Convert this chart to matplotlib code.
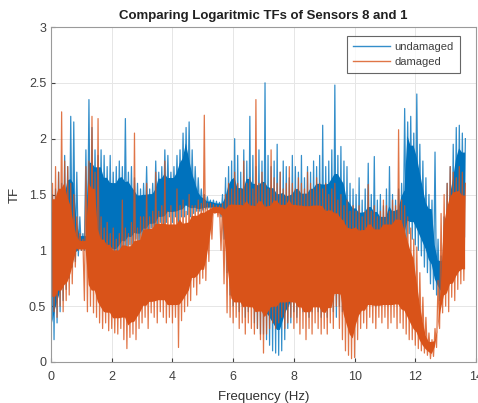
import numpy as np
import matplotlib
matplotlib.use("Agg")
import matplotlib.pyplot as plt

plt.rcParams['font.family'] = ['Liberation Sans', 'DejaVu Sans']

# frequency grid (Hz), one bin every 0.1 Hz
freq = np.round(np.arange(0, 13.65, 0.1), 2)

# undamaged: upper / lower envelope
undamaged_hi = [1.5, 1.55, 1.7, 1.6, 1.85, 1.75, 2.2, 2.15, 1.7, 1.3,
                1.15, 1.9, 2.35, 2.1, 1.9, 1.85, 1.9, 1.85, 1.75, 1.85,
                1.7, 1.75, 1.8, 1.75, 2.18, 1.7, 1.75, 1.65, 1.6, 1.55,
                1.6, 1.75, 1.55, 1.6, 1.8, 1.7, 1.75, 1.9, 1.85, 1.7,
                1.75, 1.85, 1.9, 2.05, 2.1, 2.15, 1.9, 1.75, 1.65, 1.55,
                1.5, 1.48, 1.45, 1.45, 1.44, 1.43, 1.5, 1.65, 1.75, 1.8,
                2.0, 1.85, 1.7, 1.9, 1.8, 2.2, 1.85, 1.75, 1.9, 1.8,
                2.5, 1.85, 1.75, 1.8, 1.95, 1.7, 1.8, 1.75, 1.65, 1.85,
                1.75, 1.7, 1.85, 1.65, 1.75, 1.7, 1.8, 1.75, 1.85, 2.12,
                1.75, 1.8, 1.9, 2.48, 1.85, 1.93, 1.8, 1.75, 1.6, 1.55,
                1.5, 1.65, 1.45, 1.55, 1.78, 1.5, 1.84, 1.45, 1.5, 1.4,
                1.55, 1.75, 1.5, 1.45, 1.55, 1.6, 2.27, 2.15, 2.2, 2.05,
                2.4, 1.95, 1.8, 1.65, 1.5, 1.45, 1.88, 1.1, 0.95, 1.3,
                1.6, 1.75, 1.95, 2.1, 2.12, 2.05, 2.0]
undamaged_lo = [0.05, 0.2, 0.35, 0.45, 0.55, 0.65, 0.75, 0.85, 0.9, 0.95,
                1.0, 1.0, 0.95, 0.9, 0.95, 1.0, 0.92, 0.9, 0.95, 0.9,
                0.9, 0.92, 0.88, 0.95, 1.0, 0.97, 1.05, 1.0, 1.1, 1.05,
                1.1, 1.15, 1.1, 1.2, 1.15, 1.2, 1.25, 1.2, 1.25, 1.3,
                1.25, 1.3, 1.25, 1.3, 1.3, 1.32, 1.3, 1.33, 1.35, 1.35,
                1.36, 1.37, 1.38, 1.38, 1.38, 1.37, 1.3, 1.1, 0.8, 0.6,
                0.5, 0.55, 0.45, 0.5, 0.4, 0.45, 0.5, 0.35, 0.3, 0.25,
                0.25, 0.2, 0.15, 0.1, 0.08, 0.06, 0.1, 0.2, 0.3, 0.35,
                0.45, 0.4, 0.5, 0.45, 0.5, 0.4, 0.45, 0.5, 0.45, 0.4,
                0.45, 0.4, 0.5, 0.45, 0.4, 0.5, 0.45, 0.4, 0.45, 0.5,
                0.45, 0.5, 0.55, 0.5, 0.6, 0.55, 0.6, 0.5, 0.55, 0.6,
                0.55, 0.6, 0.65, 0.6, 0.7, 0.8, 1.0, 1.1, 1.15, 1.1,
                1.05, 1.0, 0.95, 0.85, 0.8, 0.7, 0.65, 0.6, 0.55, 0.6,
                0.65, 0.7, 0.8, 0.85, 0.9, 0.95, 1.0]

# damaged
damaged_hi = [1.6, 1.75, 1.7, 2.24, 1.8, 1.75, 1.6, 1.5, 1.3, 1.15,
              1.1, 1.75, 1.8, 2.2, 1.7, 2.18, 1.3, 1.2, 1.25, 1.15,
              1.2, 1.1, 1.15, 1.45, 1.2, 1.15, 1.25, 2.05, 1.2, 1.3,
              1.3, 1.6, 1.3, 1.35, 1.7, 1.35, 1.4, 1.8, 1.35, 1.4,
              1.35, 1.55, 1.4, 1.45, 1.35, 1.5, 1.4, 1.4, 1.45, 1.42,
              2.21, 1.42, 1.42, 1.41, 1.4, 1.4, 1.42, 1.5, 1.6, 1.55,
              1.7, 1.6, 1.55, 1.8, 1.6, 1.65, 1.55, 2.35, 1.6, 1.7,
              1.6, 1.55, 1.9, 1.65, 1.6, 1.7, 1.55, 1.6, 1.75, 1.6,
              1.55, 1.65, 1.6, 1.55, 1.7, 1.6, 1.55, 1.65, 1.6, 1.55,
              1.6, 1.5, 1.55, 1.6, 1.45, 1.5, 1.4, 1.45, 1.35, 1.4,
              1.35, 1.4, 1.3, 1.35, 1.59, 1.35, 1.4, 1.3, 1.35, 1.45,
              1.4, 1.35, 1.45, 1.4, 2.08, 1.45, 1.4, 1.3, 1.2, 1.1,
              1.03, 0.8, 0.58, 0.4, 0.26, 0.2, 0.3, 0.73, 1.33, 1.5,
              1.6, 1.75, 1.7, 1.65, 1.75, 1.7, 1.6]
damaged_lo = [0.35, 0.45, 0.4, 0.5, 0.45, 0.55, 0.6, 0.7, 0.85, 1.0,
              1.0, 0.55, 0.45, 0.5, 0.44, 0.4, 0.35, 0.3, 0.35, 0.28,
              0.3, 0.26, 0.25, 0.3, 0.2, 0.12, 0.22, 0.25, 0.2, 0.3,
              0.35, 0.4, 0.3, 0.44, 0.4, 0.35, 0.45, 0.4, 0.35, 0.4,
              0.35, 0.4, 0.13, 0.37, 0.45, 0.5, 0.55, 0.67, 0.6, 0.7,
              0.75, 0.73, 0.9, 1.1, 1.33, 1.3, 1.0, 0.7, 0.44, 0.4,
              0.35, 0.4, 0.3, 0.35, 0.25, 0.35, 0.3, 0.25, 0.3, 0.2,
              0.08, 0.25, 0.3, 0.35, 0.3, 0.35, 0.4, 0.3, 0.35, 0.4,
              0.3, 0.35, 0.25, 0.3, 0.2, 0.3, 0.25, 0.35, 0.3, 0.25,
              0.3, 0.25, 0.35, 0.3, 0.5, 0.3, 0.2, 0.1, 0.06, 0.03,
              0.04, 0.2, 0.3, 0.35, 0.3, 0.4, 0.35, 0.3, 0.4, 0.35,
              0.4, 0.3, 0.35, 0.4, 0.3, 0.35, 0.3, 0.25, 0.2, 0.2,
              0.15, 0.12, 0.1, 0.08, 0.06, 0.03, 0.05, 0.13, 0.3, 0.44,
              0.5, 0.45, 0.58, 0.55, 0.65, 0.7, 0.73]

xticks = [0, 2, 4, 6, 8, 10, 12, 14]
yticks = [0, 0.5, 1, 1.5, 2, 2.5, 3]
BLUE = '#0072BD'
ORANGE = '#D95319'


def zigzag(lo, hi):
    # alternate low / high sample inside each bin
    x = np.column_stack([freq, freq + 0.05]).ravel()
    y = np.column_stack([lo, hi]).ravel()
    return x, y


def core(lo, hi):
    # dense middle of the band (single-bin spikes left out, edges trimmed)
    lo = np.asarray(lo)
    hi = np.asarray(hi)
    lo_p = np.pad(lo, 1, mode='edge')
    hi_p = np.pad(hi, 1, mode='edge')
    c_lo = np.maximum(np.maximum(lo_p[:-2], lo_p[2:]), lo)
    c_hi = np.minimum(np.minimum(hi_p[:-2], hi_p[2:]), hi)
    c_hi = np.maximum(c_hi, c_lo)
    span = c_hi - c_lo
    return c_lo + 0.12 * span, c_hi - 0.12 * span


def draw(ax, lo, hi, color, label, z):
    c_lo, c_hi = core(lo, hi)
    ax.fill_between(freq + 0.025, c_lo, c_hi, color=color, lw=0, zorder=z)
    x, y = zigzag(lo, hi)
    ax.plot(x, y, color=color, lw=0.9, alpha=0.8, label=label,
            zorder=z + 0.1)


fig = plt.figure(figsize=(4.78, 4.03), dpi=100)
ax = fig.add_axes([51/478, 41/403, 425/478, 335/403])

draw(ax, undamaged_lo, undamaged_hi, BLUE, 'undamaged', 2)
draw(ax, damaged_lo, damaged_hi, ORANGE, 'damaged', 3)

ax.set_xlim(0, 14)
ax.set_ylim(0, 3)
ax.set_xticks(xticks)
ax.set_yticks(yticks)
ax.set_yticklabels(['0', '0.5', '1', '1.5', '2', '2.5', '3'])
ax.grid(True, color='#e6e6e6', lw=0.7)
ax.set_axisbelow(True)
ax.tick_params(direction='in', length=3, labelsize=9, colors='#404040')
ax.tick_params(axis='x', pad=6.5)
for s in ax.spines.values():
    s.set_color('#9a9a9a')
    s.set_linewidth(0.8)
    s.set_zorder(5)

ax.set_title('Comparing Logaritmic TFs of Sensors 8 and 1', fontsize=9.5,
             fontweight='bold', color='#202020', pad=6)
ax.set_xlabel('Frequency (Hz)', fontsize=9.5, color='#303030', labelpad=6)
ax.set_ylabel('TF', fontsize=9.5, color='#303030', labelpad=6)

leg = ax.legend(loc='upper right', fontsize=8, frameon=True, fancybox=False,
                handlelength=3.3, handletextpad=0.4, borderpad=0.55,
                labelspacing=0.4, borderaxespad=0,
                bbox_to_anchor=(0.962, 0.973))
leg.set_zorder(10)
leg.get_frame().set_edgecolor('#404040')
leg.get_frame().set_linewidth(0.8)
for t in leg.get_texts():
    t.set_color('#404040')
for h in leg.get_lines():
    h.set_linewidth(1.0)
    h.set_alpha(0.8)

fig.savefig('out.png', dpi=100)
